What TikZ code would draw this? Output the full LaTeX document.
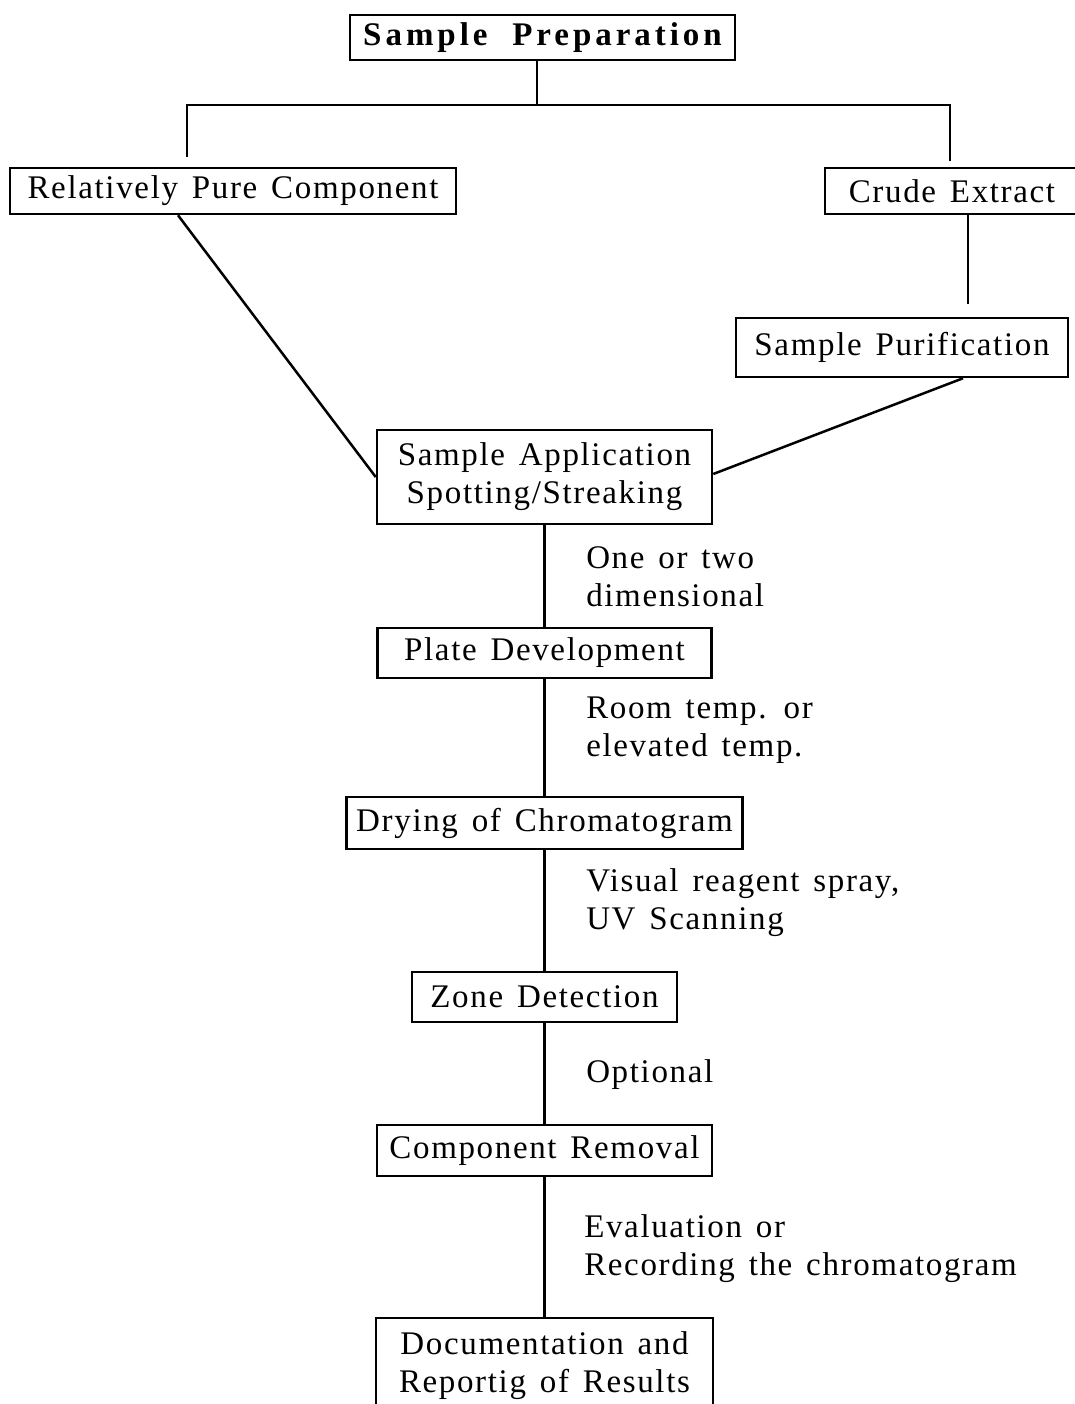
\documentclass[tikz,border=0pt]{standalone}
\usepackage{fontspec}
\setmainfont{Liberation Serif}[LetterSpace=5,WordSpace=1.4]
\newfontfamily\headfont{Liberation Serif}[LetterSpace=12,BoldFont={Liberation Serif Bold}]
\begin{document}
\begin{tikzpicture}[x=0.5pt,y=-0.5pt,line width=1.25pt,
	stepbox/.style={draw, inner sep=0pt, align=center, font=\fontsize{16.5}{19}\selectfont},
	note/.style={anchor=west, align=left, inner sep=0pt, font=\fontsize{16.5}{19}\selectfont}]

	%coordinates are pixels of the scanned page, y runs down
	\useasboundingbox (0,0) rectangle (1075,1404);

	%top of the tree
	\node [stepbox, minimum width=192.5pt, minimum height=22.5pt, font=\headfont\fontsize{16.5}{19}\selectfont\bfseries]
		(prep) at (542.5,37.5) {Sample\hspace{0.75em}Preparation};
	\node [stepbox, minimum width=223pt, minimum height=23pt] (pure) at (233,191) {Relatively Pure Component};
	\node [stepbox, minimum width=127pt, minimum height=23pt] (crude) at (952,191) {Crude Extract};
	\node [stepbox, minimum width=166pt, minimum height=29.5pt] (purif) at (902,347.5) {Sample Purification};

	%the fork under the title
	\coordinate (fork) at (537,105);
	\coordinate (lend) at (187,157);
	\coordinate (rend) at (950,161);
	\draw (prep.south -| fork) -- (fork);
	\draw (lend) -- (lend |- fork) -- (rend |- fork) -- (rend);
	\draw ([xshift=8pt]crude.south) -- ([xshift=33pt,yshift=6.5pt]purif.north);

	%main column
	\foreach \name/\ypos/\boxw/\boxh/\txt in {
		appl/477/167.5/47/{Sample Application\\Spotting/Streaking},
		plate/653/167/25/{Plate Development},
		dry/823/198/26/{Drying of Chromatogram},
		zone/997/132.5/25/{Zone Detection},
		removal/1150.5/167.5/25.5/{Component Removal},
		docs/1366/168.5/48/{Documentation and\\Reportig of Results}}
	{
		\node [stepbox, minimum width=\boxw pt, minimum height=\boxh pt] (\name) at (544.5,\ypos) {\txt};
	}

	%side remarks
	\node [note] (n1) at (585,577) {One or two\\dimensional};
	\node [note] (n2) at (585,730) {Room temp. or\\elevated temp.};
	\node [note] (n3) at (585,903) {Visual reagent spray,\\UV Scanning};
	\node [note] (n4) at (585,1075) {Optional};
	\node [note] (n5) at (583,1248.5) {Evaluation or\\Recording the chromatogram};

	%connectors
	\draw ([xshift=-27.5pt]pure.south) -- (appl.west);
	\draw ([xshift=30.5pt]purif.south) -- ([yshift=1.5pt]appl.east);
	\foreach \from/\to in {appl/plate, plate/dry, dry/zone, zone/removal, removal/docs}
		\draw (\from.south) -- (\from.south |- \to.north);

\end{tikzpicture}
\end{document}
